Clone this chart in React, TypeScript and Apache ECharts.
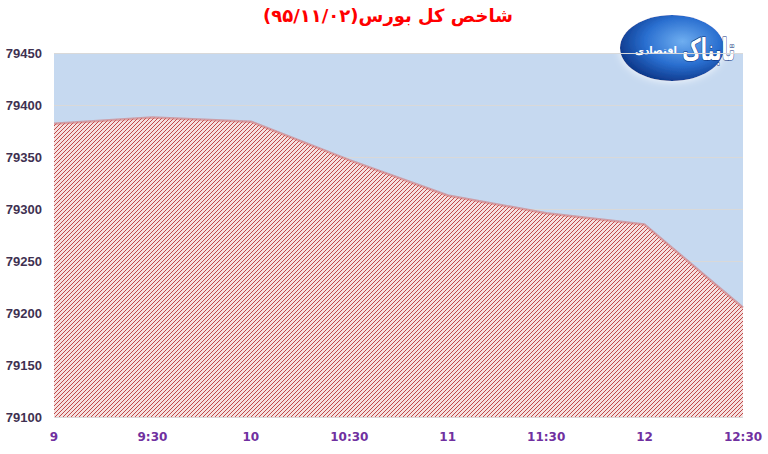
import React, { useEffect, useRef } from "react";
import * as echarts from "echarts";

const titleText = "شاخص کل بورس(۹۵/۱۱/۰۲)";
const categories = ["9", "9:30", "10", "10:30", "11", "11:30", "12", "12:30"];
const values = [79382, 79388, 79384, 79347, 79313, 79296, 79285, 79205];
const yMin = 79100;
const yMax = 79450;
const yStep = 50;
const logoBig = "تابناک";
const logoSmall = "اقتصادی";

function makeHatch(): string {
  const c = document.createElement("canvas");
  c.width = 4;
  c.height = 4;
  const ctx = c.getContext("2d")!;
  ctx.fillStyle = "#F6E0DF";
  ctx.fillRect(0, 0, 4, 4);
  ctx.fillStyle = "#BF4A4A";
  ctx.fillRect(3, 0, 1, 1);
  ctx.fillRect(2, 1, 1, 1);
  ctx.fillRect(1, 2, 1, 1);
  ctx.fillRect(0, 3, 1, 1);
  return c.toDataURL();
}

export default function App() {
  const ref = useRef<HTMLDivElement>(null);
  useEffect(() => {
    if (!ref.current) return;
    const chart = echarts.init(ref.current, undefined, { renderer: "svg" });
    const hatch = makeHatch();
    chart.setOption({
      animation: false,
      backgroundColor: "#ffffff",
      grid: {
        left: 54,
        right: 25,
        top: 53,
        bottom: 37,
        show: true,
        backgroundColor: "#C6D9F0",
        borderWidth: 0,
      },
      xAxis: {
        type: "category",
        data: categories,
        boundaryGap: false,
        axisLine: { show: false },
        axisTick: { show: false },
        axisLabel: {
          color: "#7030A0",
          fontFamily: "DejaVu Sans",
          fontWeight: "bold",
          fontSize: 12,
          margin: 14,
        },
      },
      yAxis: {
        type: "value",
        min: yMin,
        max: yMax,
        interval: yStep,
        axisLine: { show: false },
        axisTick: { show: false },
        splitLine: { lineStyle: { color: "#D9D9D9", width: 1 } },
        axisLabel: {
          color: "#3F3151",
          fontFamily: "Liberation Sans",
          fontWeight: "bold",
          fontSize: 13,
          margin: 12,
          formatter: (v: number) => String(v),
        },
      },
      series: [
        {
          type: "line",
          data: values,
          symbol: "none",
          lineStyle: { color: "rgba(210,110,110,0.55)", width: 2.5 },
          areaStyle: {
            color: { image: hatch, repeat: "repeat" },
            opacity: 1,
          },
        },
      ],
      graphic: [
        {
          type: "text",
          left: 388 - 125,
          top: 6,
          style: {
            text: titleText,
            fill: "#FF0000",
            font: "bold 18px 'DejaVu Sans'",
          },
        },
        {
          type: "group",
          z: 100,
          children: [
            {
              type: "ellipse",
              shape: { cx: 672, cy: 48, rx: 52, ry: 33 },
              style: {
                fill: {
                  type: "radial",
                  x: 0.6,
                  y: 0.4,
                  r: 0.65,
                  colorStops: [
                    { offset: 0, color: "#6FAEF0" },
                    { offset: 0.55, color: "#2A6FD0" },
                    { offset: 1, color: "#0B3486" },
                  ],
                },
                shadowBlur: 8,
                shadowColor: "rgba(255,255,255,0.9)",
              },
            },
            {
              type: "text",
              x: 735,
              y: 50,
              scaleX: 0.9,
              scaleY: 1.5,
              style: {
                text: logoBig,
                fill: "#ffffff",
                font: "bold 20px 'DejaVu Sans'",
                align: "right",
                verticalAlign: "middle",
                stroke: "#0B2F7A",
                lineWidth: 0.8,
              },
            },
            {
              type: "text",
              x: 656,
              y: 50,
              style: {
                text: logoSmall,
                fill: "#ffffff",
                font: "bold 10px 'DejaVu Sans'",
                align: "center",
                verticalAlign: "middle",
              },
            },
          ],
        },
      ],
    });
    return () => chart.dispose();
  }, []);
  return <div ref={ref} style={{ width: 768, height: 454, position: "absolute", left: 0, top: 0 }} />;
}
